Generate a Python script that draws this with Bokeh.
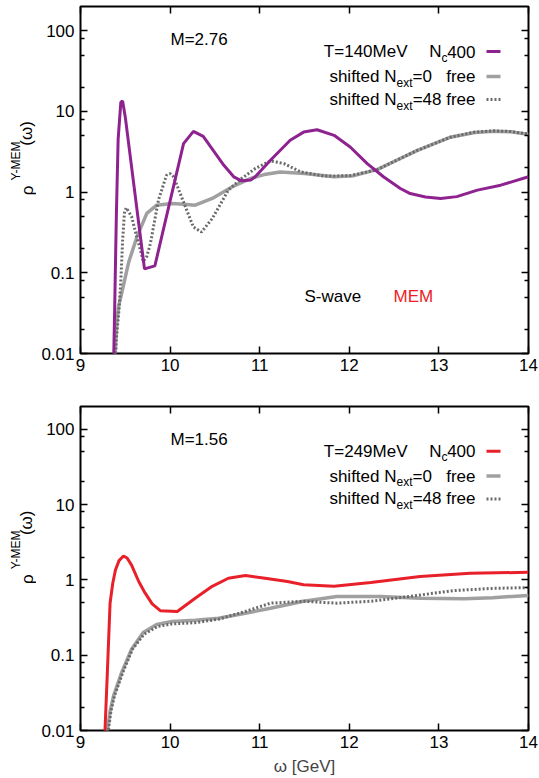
import numpy as np
from bokeh.plotting import figure
from bokeh.layouts import column, row
from bokeh.models import Label, FixedTicker, LinearAxis, LogAxis, Range1d, CustomJSTickFormatter
from bokeh.embed import file_html
from bokeh.resources import INLINE

# ---------------- data: top panel (T=140 MeV) ----------------
w_top_nc = [9.37, 9.38, 9.40, 9.42, 9.45, 9.47, 9.50, 9.714, 9.83, 10.15, 10.26, 10.37, 10.60, 10.71,
            10.80, 10.90, 10.95, 11.12, 11.34, 11.49, 11.64, 11.83, 12.01, 12.20, 12.385, 12.57, 12.68,
            12.85, 13.02, 13.20, 13.43, 13.69, 14.0]
r_top_nc = [0.008, 0.03, 0.5, 4.5, 13.0, 13.5, 8.5, 0.112, 0.122, 4.0, 5.66, 4.9, 2.15, 1.55,
            1.38, 1.41, 1.55, 2.48, 4.4, 5.55, 5.94, 5.06, 3.63, 2.26, 1.54, 1.11, 0.96,
            0.87, 0.836, 0.88, 1.06, 1.22, 1.55]

w_top_free0 = [9.38, 9.405, 9.424, 9.46, 9.536, 9.63, 9.74, 9.85, 10.02, 10.15, 10.28, 10.47, 10.69,
               10.90, 11.05, 11.23, 11.50, 11.83, 12.05, 12.31, 12.50, 12.76, 13.13, 13.40, 13.61, 13.80, 14.0]
r_top_free0 = [0.008, 0.024, 0.038, 0.056, 0.133, 0.28, 0.545, 0.69, 0.725, 0.71, 0.69, 0.836, 1.16,
               1.48, 1.65, 1.78, 1.7, 1.55, 1.6, 1.9, 2.4, 3.3, 4.8, 5.5, 5.7, 5.6, 5.2]

w_top_free48 = [9.39, 9.40, 9.43, 9.45, 9.47, 9.49, 9.51, 9.57, 9.62, 9.67, 9.70, 9.74, 9.78, 9.87,
                9.96, 10.0, 10.04, 10.17, 10.26, 10.35, 10.47, 10.65, 10.80, 10.95, 11.12, 11.27,
                11.46, 11.72, 12.01, 12.31, 12.50, 12.76, 13.13, 13.40, 13.61, 13.80, 14.0]
r_top_free48 = [0.008, 0.015, 0.035, 0.08, 0.25, 0.55, 0.64, 0.5, 0.3, 0.19, 0.138, 0.16, 0.23, 0.8,
                1.62, 1.7, 1.55, 0.66, 0.37, 0.32, 0.47, 1.06, 1.48, 1.96, 2.44, 2.26,
                1.78, 1.58, 1.6, 1.9, 2.4, 3.3, 4.8, 5.55, 5.75, 5.65, 5.25]

# ---------------- data: bottom panel (T=249 MeV) ----------------
w_bot_nc = [9.27, 9.30, 9.33, 9.36, 9.39, 9.43, 9.48, 9.52, 9.57, 9.65, 9.72, 9.80, 9.89, 10.08,
            10.28, 10.47, 10.65, 10.84, 11.06, 11.31, 11.49, 11.83, 12.24, 12.79, 13.35, 14.0]
r_bot_nc = [0.008, 0.06, 0.49, 0.9, 1.35, 1.8, 2.07, 1.95, 1.57, 0.95, 0.67, 0.48, 0.39, 0.38,
            0.57, 0.82, 1.05, 1.14, 1.05, 0.95, 0.86, 0.82, 0.92, 1.11, 1.22, 1.26]

w_bot_free0 = [9.29, 9.33, 9.37, 9.46, 9.57, 9.70, 9.85, 10.02, 10.28, 10.54, 10.84, 11.12, 11.49,
               11.86, 12.35, 12.79, 13.28, 13.60, 14.0]
r_bot_free0 = [0.008, 0.018, 0.029, 0.059, 0.12, 0.2, 0.255, 0.28, 0.29, 0.31, 0.36, 0.42, 0.52,
               0.6, 0.6, 0.57, 0.56, 0.58, 0.62]

w_bot_free48 = [9.30, 9.34, 9.38, 9.47, 9.58, 9.71, 9.86, 10.02, 10.28, 10.54, 10.84, 11.12, 11.49,
                11.86, 12.24, 12.61, 13.17, 13.60, 14.0]
r_bot_free48 = [0.008, 0.018, 0.029, 0.058, 0.12, 0.19, 0.24, 0.26, 0.27, 0.3, 0.38, 0.49, 0.52,
                0.49, 0.52, 0.59, 0.72, 0.77, 0.79]

# ticks
x_ticks = [9, 10, 11, 12, 13, 14]
y_major = [0.01, 0.1, 1, 10, 100]
y_minor = [0.02, 0.05, 0.08, 0.2, 0.5, 0.8, 2, 5, 8, 20, 50, 80]

X_MIN, X_MAX = 9, 14
Y_MIN, Y_MAX = 0.01, 200
FRAME_W = 448
LABEL_W = 36

FONT = "Liberation Sans"
FS = "17px"
SUBFS = "12px"
PURPLE = "#8E2390"
RED = "#E8202A"
GRAY = "#A0A0A0"
DOT = "#6A6A6A"


def to_data(sx, sy, fh):
    x = X_MIN + sx / FRAME_W * (X_MAX - X_MIN)
    ly = np.log10(Y_MIN) + sy / fh * (np.log10(Y_MAX) - np.log10(Y_MIN))
    return float(x), float(10 ** ly)


def txt(p, fh, sx, sy, text, size=FS, color="black", align="left"):
    x, y = to_data(sx, sy, fh)
    p.add_layout(Label(x=x, y=y, text=text,
                       text_font=FONT, text_font_size=size, text_color=color,
                       text_align=align, text_baseline="middle"))


def style_axis(ax, labels=True, minor=True):
    ax.axis_line_color = None
    ax.major_tick_in = 7
    ax.major_tick_out = 0
    ax.minor_tick_in = 4
    ax.minor_tick_out = 0
    ax.major_tick_line_color = "black"
    ax.major_tick_line_width = 1.5
    ax.minor_tick_line_color = "black" if minor else None
    ax.minor_tick_line_width = 1.5
    ax.major_label_text_font = FONT
    if labels:
        ax.major_label_text_font_size = FS
        ax.major_label_text_color = "black"
    else:
        ax.major_label_text_font_size = "1px"
        ax.major_label_text_color = None
        ax.major_label_standoff = 0


def ylabel_fig(height, top, fh):
    """Narrow strip holding the rotated y-axis title rho^{Y-MEM}(omega)."""
    f = figure(width=LABEL_W, height=height, x_range=Range1d(0, LABEL_W), y_range=Range1d(0, height),
               output_backend="svg", toolbar_location=None, x_axis_location=None, y_axis_location=None,
               min_border=0)
    f.grid.visible = False
    f.outline_line_color = None
    f.background_fill_color = "white"
    f.border_fill_color = "white"
    cy = top + fh / 2.0  # frame centre (canvas px from top)
    parts = [(27, cy + 38, "ρ", FS), (15, cy + 21, "Y-MEM", SUBFS), (26, cy - 19, "(ω)", FS)]
    for x, py, t, s in parts:
        f.add_layout(Label(x=x, y=height - py, text=t, angle=float(np.pi / 2), text_font=FONT,
                           text_font_size=s, text_color="black", text_align="left",
                           text_baseline="middle"))
    return f


def make_panel(height, fh, mb_bottom, series, temp_label, key_color, m_text, swave, xlabel):
    p = figure(width=539 - LABEL_W, height=height, x_range=Range1d(X_MIN, X_MAX),
               y_range=Range1d(Y_MIN, Y_MAX),
               y_axis_type="log", output_backend="svg", toolbar_location=None,
               min_border_left=80 - LABEL_W, min_border_right=11, min_border_top=6,
               min_border_bottom=mb_bottom)
    p.grid.visible = False
    p.outline_line_color = "black"
    p.outline_line_width = 2
    p.background_fill_color = "white"
    p.border_fill_color = "white"

    xa = p.xaxis[0]
    ya = p.yaxis[0]
    xa.ticker = FixedTicker(ticks=x_ticks)
    ya.ticker = FixedTicker(ticks=y_major, minor_ticks=y_minor)
    ya.formatter = CustomJSTickFormatter(code="return tick.toString();")
    style_axis(xa, labels=True, minor=False)
    style_axis(ya, labels=True, minor=True)
    ya.major_label_standoff = 6
    xa.major_label_standoff = 5
    if xlabel:
        xa.axis_label = xlabel
        xa.axis_label_text_font = FONT
        xa.axis_label_text_font_size = FS
        xa.axis_label_text_font_style = "normal"
        xa.axis_label_standoff = 6

    top = LinearAxis(ticker=FixedTicker(ticks=x_ticks))
    style_axis(top, labels=False, minor=False)
    p.add_layout(top, "above")
    right = LogAxis(ticker=FixedTicker(ticks=y_major, minor_ticks=y_minor))
    style_axis(right, labels=False, minor=True)
    p.add_layout(right, "right")

    for (w, r, col, lw, dash) in series:
        p.line(w, r, line_color=col, line_width=lw, line_dash=dash)

    # legend (manual, with subscripts)
    rows = [fh - 45, fh - 70, fh - 93]
    txt(p, fh, 327, rows[0], temp_label, align="right")
    txt(p, fh, 361, rows[0], "N", align="right")
    txt(p, fh, 367, rows[0] - 6, "c", size=SUBFS, align="right")
    txt(p, fh, 395, rows[0], "400", align="right")

    txt(p, fh, 316, rows[1], "shifted N", align="right")
    txt(p, fh, 332, rows[1] - 6, "ext", size=SUBFS, align="right")
    txt(p, fh, 332, rows[1], "=0", align="left")
    txt(p, fh, 395, rows[1], "free", align="right")

    txt(p, fh, 316, rows[2], "shifted N", align="right")
    txt(p, fh, 332, rows[2] - 6, "ext", size=SUBFS, align="right")
    txt(p, fh, 395, rows[2], "=48 free", align="right")

    keys = [(key_color, 3, "solid"), (GRAY, 3.5, "solid"), (DOT, 3, "2 2")]
    for ry, (col, lw, dash) in zip(rows, keys):
        x0, y0 = to_data(406, ry, fh)
        x1, _ = to_data(420, ry, fh)
        p.line([x0, x1], [y0, y0], line_color=col, line_width=lw, line_dash=dash)

    txt(p, fh, 90, fh - 33, m_text)
    if swave:
        txt(p, fh, 224, 57, "S-wave")
        txt(p, fh, 313, 57, "MEM", color="#EE1C25")
    return p


p1 = make_panel(400, 347, 47,
                [(w_top_free0, r_top_free0, GRAY, 3.5, "solid"),
                 (w_top_free48, r_top_free48, DOT, 3, "2 2"),
                 (w_top_nc, r_top_nc, PURPLE, 3, "solid")],
                "T=140MeV", PURPLE, "M=2.76", True, None)
p2 = make_panel(378, 326, 46,
                [(w_bot_free0, r_bot_free0, GRAY, 3.5, "solid"),
                 (w_bot_free48, r_bot_free48, DOT, 3, "2 2"),
                 (w_bot_nc, r_bot_nc, RED, 3, "solid")],
                "T=249MeV", RED, "M=1.56", False, "ω [GeV]")

l1 = ylabel_fig(400, 6, 347)
l2 = ylabel_fig(378, 6, 326)

layout = column(row(l1, p1), row(l2, p2))
open("out.html", "w").write(file_html(layout, INLINE))
